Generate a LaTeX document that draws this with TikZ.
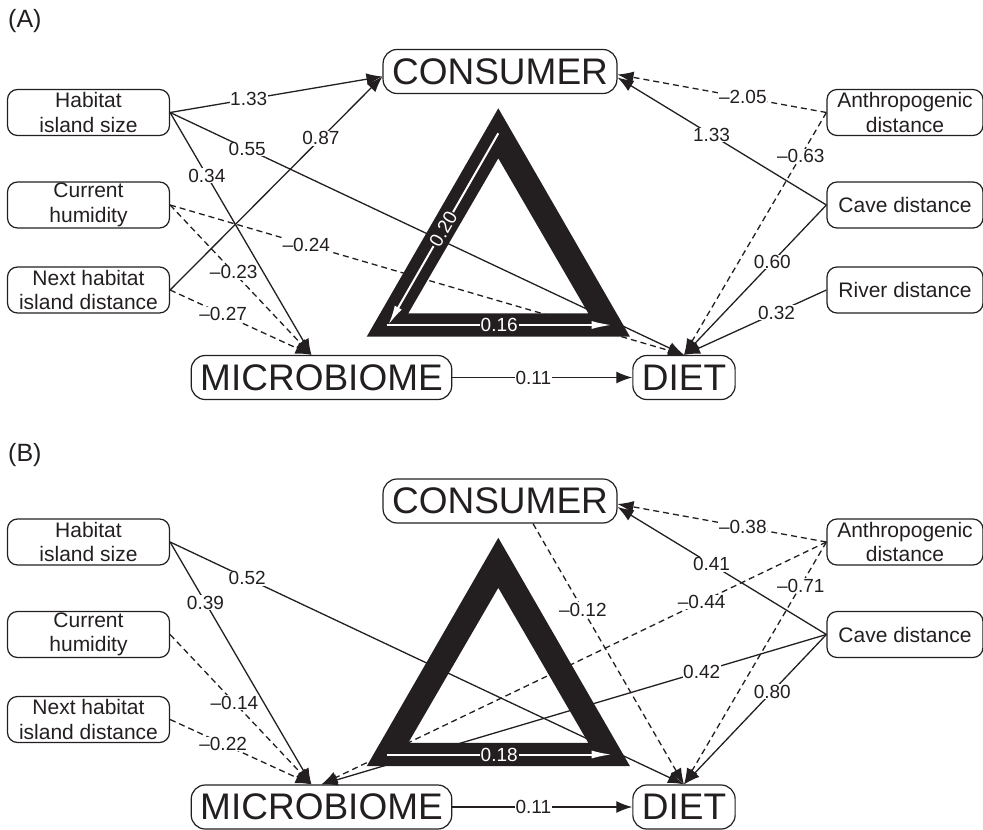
\documentclass[tikz,border=0pt]{standalone}
\usepackage{fontspec}
\setmainfont{Liberation Sans}
\usepackage{tikz}
\usetikzlibrary{arrows.meta,calc,positioning}

\definecolor{ink}{HTML}{231F20}

\tikzset{
  var/.style={draw, line width=1.2pt, rounded corners=10pt, minimum width=162pt, minimum height=46pt,
    inner sep=0pt, align=center, font=\fontsize{21}{24.5}\selectfont},
  core/.style={draw, line width=1.2pt, rounded corners=14pt, minimum height=44pt, inner xsep=9pt,
    inner ysep=0pt, font=\fontsize{37}{40}\selectfont},
  coef/.style={fill=white, inner sep=0.6pt, font=\fontsize{19}{20}\selectfont},
  wcoef/.style={fill=ink, text=white, inner sep=1pt, font=\fontsize{19}{20}\selectfont},
  pathpos/.style={line width=1.3pt, -{Latex[length=16pt,width=12pt]}},
  pathneg/.style={pathpos, dash pattern=on 6pt off 4pt},
  warrow/.style={white, line width=2pt, -{Latex[length=20pt,width=8pt]}},
  panel/.style={anchor=west, inner sep=0pt, font=\fontsize{25}{26}\selectfont}
}

\begin{document}
\begin{tikzpicture}[x=1pt, y=-1pt, color=ink]
\useasboundingbox (0,0) rectangle (983,830);

% (A)
\node[panel] (labA) at (8,21.5) {(A)};
\node[var] (habA) at (88.5,112.5) {Habitat\\island size};
\node[var] (humA) at (88.5,205) {Current\\humidity};
\node[var] (nextA) at (88.5,290) {Next habitat\\island distance};
\node[core] (consA) at (500,71.5) {CONSUMER};
\node[core] (micA) at (321.5,377.5) {MICROBIOME};
\node[core] (dietA) at (684,377.5) {DIET};
\node[var, minimum width=156pt] (anthA) at (905,112.5) {Anthropogenic\\distance};
\node[var, minimum width=156pt] (caveA) at (905,205) {Cave distance};
\node[var, minimum width=156pt] (riverA) at (905,290) {River distance};
\coordinate (micA-in) at ([xshift=-10pt]micA.north);

\draw[pathpos] (habA.east) -- node[coef,pos=0.37] {1.33} ([yshift=-5pt]consA.west);
\draw[pathpos] (habA.east) -- node[coef,pos=0.15] {0.55} (dietA.north);
\draw[pathpos] (habA.east) -- node[coef,pos=0.26] {0.34} (micA-in);
\draw[pathneg] (humA.east) -- node[coef,pos=0.265] {–0.24} (dietA.north);
\draw[pathneg] (humA.east) -- node[coef,pos=0.45] {–0.23} (micA-in);
\draw[pathpos] (nextA.east) -- node[coef,pos=0.71] {0.87} ([yshift=-5pt]consA.west);
\draw[pathneg] (nextA.east) -- node[coef,pos=0.375] {–0.27} (micA-in);
\draw[pathneg] (anthA.west) -- node[coef,pos=0.4] {–2.05} ([yshift=-3pt]consA.east);
\draw[pathpos] (caveA.west) -- node[coef,pos=0.55] {1.33} ([yshift=-6pt]consA.east);
\draw[pathneg] (anthA.west) -- node[coef,pos=0.18] {–0.63} (dietA.north);
\draw[pathpos] (caveA.west) -- node[coef,pos=0.38] {0.60} (dietA.north);
\draw[pathpos] (riverA.west) -- node[coef,pos=0.35] {0.32} (dietA.north);
\draw[pathpos] (micA.east) -- node[coef,pos=0.45] {0.11} (dietA.west);

\fill[even odd rule] (498.3,108.3) -- (630,336.7) -- (366.7,336.7) -- cycle
  (498.3,158.3) -- (588.3,313.3) -- (408.3,313.3) -- cycle;
\draw[warrow] (498.3,133.3) -- node[wcoef, rotate=60] {0.20} (388.3,325);
\draw[warrow] (386.7,325) -- node[wcoef] {0.16} (611.7,325);

% (B)
\node[panel] (labB) at (8,455.5) {(B)};
\node[var] (habB) at (88.5,542) {Habitat\\island size};
\node[var] (humB) at (88.5,634.5) {Current\\humidity};
\node[var] (nextB) at (88.5,719.5) {Next habitat\\island distance};
\node[core] (consB) at (500,501) {CONSUMER};
\node[core] (micB) at (321.5,807) {MICROBIOME};
\node[core] (dietB) at (684,807) {DIET};
\node[var, minimum width=156pt] (anthB) at (905,542) {Anthropogenic\\distance};
\node[var, minimum width=156pt] (caveB) at (905,634.5) {Cave distance};
\coordinate (micB-in) at ([xshift=-10pt]micB.north);

\draw[pathpos] (habB.east) -- node[coef,pos=0.25] {0.39} (micB-in);
\draw[pathpos] (habB.east) -- node[coef,pos=0.15] {0.52} (dietB.north);
\draw[pathneg] (humB.east) -- node[coef,pos=0.455] {–0.14} (micB-in);
\draw[pathneg] (nextB.east) -- node[coef,pos=0.375] {–0.22} (micB-in);
\draw[pathneg] ([xshift=33pt]consB.south) -- node[coef,pos=0.33] {–0.12} (dietB.north);
\draw[pathneg] (anthB.west) -- node[coef,pos=0.4] {–0.38} ([yshift=-3pt]consB.east);
\draw[pathpos] (caveB.west) -- node[coef,pos=0.55] {0.41} ([yshift=-6pt]consB.east);
\draw[pathneg] (anthB.west) -- node[coef,pos=0.247] {–0.44} (micB.north);
\draw[pathneg] (anthB.west) -- node[coef,pos=0.18] {–0.71} (dietB.north);
\draw[pathpos] (caveB.west) -- node[coef,pos=0.247] {0.42} (micB.north);
\draw[pathpos] (caveB.west) -- node[coef,pos=0.38] {0.80} (dietB.north);
\draw[pathpos] (micB.east) -- node[coef,pos=0.45] {0.11} (dietB.west);

\fill[even odd rule] (498.3,537.8) -- (630,766.2) -- (366.7,766.2) -- cycle
  (498.3,587.8) -- (588.3,742.8) -- (408.3,742.8) -- cycle;
\draw[warrow] (386.7,754.5) -- node[wcoef] {0.18} (611.7,754.5);
\end{tikzpicture}
\end{document}
